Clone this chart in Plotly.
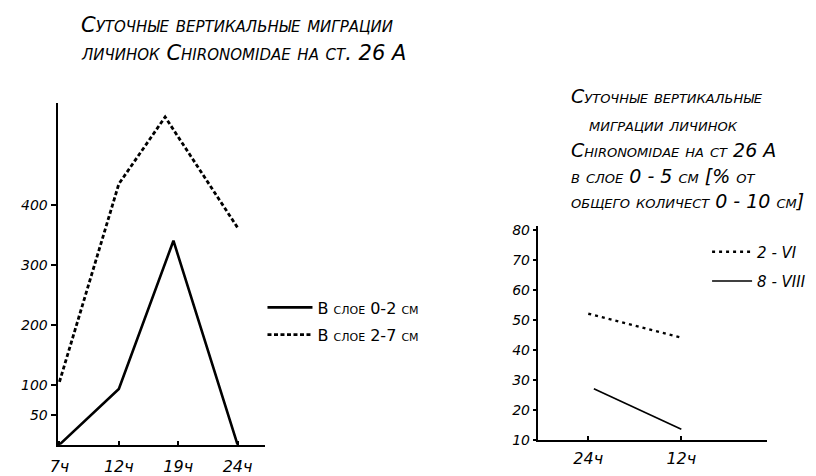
import plotly.graph_objects as go

# ---- data (left chart) ----
left_tick_labels = ["7ч", "12ч", "19ч", "24ч"]
left_tick_pos = [0, 1, 2, 3]
left_y_ticks = [50, 100, 200, 300, 400]
solid_name = "В слое 0-2 см"
solid_x = [0, 1, 1.92, 3]
solid_y = [0, 93, 341, 0]
dash_name = "В слое 2-7 см"
dash_x = [0, 1, 1.78, 3]
dash_y = [105, 436, 548, 363]

# ---- data (right chart) ----
right_tick_labels = ["24ч", "12ч"]
right_tick_pos = [0, 1]
right_y_ticks = [10, 20, 30, 40, 50, 60, 70, 80]
vi_name = "2 - VI"
vi_x = [0, 1]
vi_y = [52, 44]
viii_name = "8 - VIII"
viii_x = [0.06, 1]
viii_y = [27, 13.5]

W, H = 816, 476
FONT = "DejaVu Sans"


def px(x):
    return x / W


def py(y):
    return 1 - y / H


fig = go.Figure()
fig.add_trace(go.Scatter(x=solid_x, y=solid_y, mode="lines", name=solid_name,
                         line=dict(color="black", width=2.6), xaxis="x", yaxis="y",
                         legend="legend"))
fig.add_trace(go.Scatter(x=dash_x, y=dash_y, mode="lines", name=dash_name,
                         line=dict(color="black", width=2.8, dash="4px,2.5px"),
                         xaxis="x", yaxis="y", legend="legend2"))
fig.add_trace(go.Scatter(x=vi_x, y=vi_y, mode="lines", name=vi_name,
                         line=dict(color="black", width=2.4, dash="3px,4px"),
                         xaxis="x2", yaxis="y2", legend="legend3"))
fig.add_trace(go.Scatter(x=viii_x, y=viii_y, mode="lines", name=viii_name,
                         line=dict(color="black", width=1.6),
                         xaxis="x2", yaxis="y2", legend="legend4"))

ytickfont = dict(family=FONT, size=14, color="black", style="italic")
xtickfont = dict(family=FONT, size=16, color="black", style="italic")
axis_common = dict(showgrid=False, zeroline=False, showline=True, linecolor="black",
                   linewidth=2, tickcolor="black", fixedrange=True)

legfont = dict(family=FONT, size=16, color="black", variant="small-caps")
legfont_r = dict(family=FONT, size=15, color="black", variant="small-caps", style="italic")


def leg(x, y, font, iw):
    return dict(x=px(x), y=py(y), xanchor="left", yanchor="middle",
                bgcolor="rgba(0,0,0,0)", borderwidth=0, font=font,
                itemwidth=iw, tracegroupgap=0)


fig.update_layout(
    width=W, height=H,
    margin=dict(l=0, r=0, t=0, b=0),
    paper_bgcolor="white", plot_bgcolor="white",
    xaxis=dict(domain=[px(50), px(260)], range=[-0.033, 3.47], anchor="y",
               tickmode="array", tickvals=left_tick_pos, ticktext=left_tick_labels,
               ticks="inside", ticklen=4, tickwidth=2, tickfont=xtickfont,
               ticklabelstandoff=6, **axis_common),
    yaxis=dict(domain=[py(453), py(102)], range=[0, 571], anchor="x",
               tickmode="array", tickvals=left_y_ticks, tickfont=ytickfont,
               ticks="outside", ticklen=5, tickwidth=1.5, **axis_common),
    xaxis2=dict(domain=[px(535), px(767)], range=[-0.543, 1.926], anchor="y2",
                tickmode="array", tickvals=right_tick_pos, ticktext=right_tick_labels,
                ticks="inside", ticklen=4, tickwidth=2, tickfont=xtickfont,
                ticklabelstandoff=3, **axis_common),
    yaxis2=dict(domain=[py(448), py(228)], range=[10, 81.3], anchor="x2",
                tickmode="array", tickvals=right_y_ticks, tickfont=ytickfont,
                ticks="outside", ticklen=3, tickwidth=1.5, **axis_common),
    legend=leg(257, 312, legfont, 45),
    legend2=leg(257, 340, legfont, 45),
    legend3=leg(706, 255, legfont_r, 40),
    legend4=leg(706, 285, legfont_r, 40),
    showlegend=True,
)

title_font = dict(family=FONT, size=21, color="black", style="italic", variant="small-caps")
title_font_r = dict(family=FONT, size=19, color="black", style="italic", variant="small-caps")

left_title = [
    ("Суточные вертикальные миграции", 72, 22),
    ("личинок Chironomidae на ст. 26 А", 72, 50),
]
right_title = [
    ("Суточные вертикальные", 567, 95),
    ("миграции личинок", 585, 123),
    ("Chironomidae на ст 26 А", 567, 150),
    ("в слое 0 - 5 см [% от", 567, 177),
    ("общего количест 0 - 10 см]", 567, 203),
]
for txt, x, y in left_title:
    fig.add_annotation(text=txt, x=px(x), y=py(y), xref="paper", yref="paper",
                       xanchor="left", yanchor="middle", showarrow=False, font=title_font)
for txt, x, y in right_title:
    fig.add_annotation(text=txt, x=px(x), y=py(y), xref="paper", yref="paper",
                       xanchor="left", yanchor="middle", showarrow=False, font=title_font_r)

fig.write_html("out.html", config=dict(displayModeBar=False))
